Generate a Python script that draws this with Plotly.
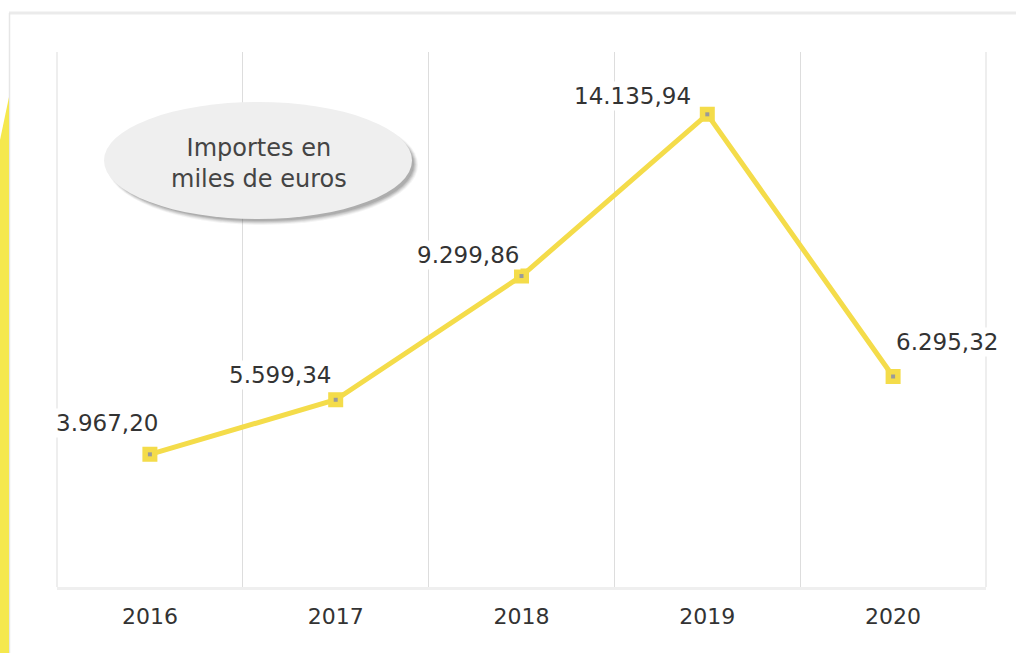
import plotly.graph_objects as go

years = ["2016", "2017", "2018", "2019", "2020"]
importes = [3967.20, 5599.34, 9299.86, 14135.94, 6295.32]
titulo_caja = "Importes en<br>miles de euros"

W, H = 1016, 653
ML, MR, MT, MB = 57, 30, 52, 66
PW, PH = W - ML - MR, H - MT - MB


def px(x):
    return (x - ML) / PW


def py(y):
    return (H - MB - y) / PH


def es(v):
    s = f"{v:,.2f}"
    return s.replace(",", "X").replace(".", ",").replace("X", ".")


amarillo = "#f4dc4a"

fig = go.Figure()
fig.add_trace(go.Scatter(
    x=years, y=importes, mode="lines+markers",
    line=dict(color=amarillo, width=5),
    marker=dict(symbol="square", size=12, color=amarillo,
                line=dict(color=amarillo, width=3)),
    hoverinfo="skip", showlegend=False,
))
fig.add_trace(go.Scatter(
    x=years, y=importes, mode="markers",
    marker=dict(symbol="square", size=4, color="#9a9a9a"),
    hoverinfo="skip", showlegend=False,
))

# etiquetas de valores (desplazamientos en px)
offs = [(10, 31, "right"), (-3, 25, "right"), (-1, 21, "right"),
        (-14, 18, "right"), (1, 35, "left")]
annots = []
for i, (v, (dx, dy, anc)) in enumerate(zip(importes, offs)):
    annots.append(dict(xref="x", yref="y", x=i, y=v, text=es(v),
                       showarrow=False, xanchor=anc, yanchor="middle",
                       xshift=dx, yshift=dy,
                       font=dict(family="DejaVu Sans", size=23, color="#333"),
                       bgcolor="white"))

shapes = []
# marco gris y franja amarilla
shapes.append(dict(type="line", xref="paper", yref="paper",
                   x0=px(9), x1=px(W), y0=py(13), y1=py(13),
                   line=dict(color="#ebebeb", width=3), layer="below"))
shapes.append(dict(type="line", xref="paper", yref="paper",
                   x0=px(9.5), x1=px(9.5), y0=py(13), y1=py(H),
                   line=dict(color="#e6e6e6", width=1.5), layer="below"))
path = "M {} {} L {} {} L {} {} L {} {} Z".format(
    px(0), py(140), px(9), py(97), px(9), py(H), px(0), py(H))
shapes.append(dict(type="path", xref="paper", yref="paper", path=path,
                   fillcolor="#f5e84e", line=dict(width=0), layer="below"))

# elipse con sombra
ex0, ex1, ey0, ey1 = 104, 412, 102, 219
for i, op in enumerate([0.06, 0.08, 0.10, 0.12, 0.14]):
    d = 6 - i
    shapes.append(dict(type="circle", xref="paper", yref="paper",
                       x0=px(ex0 + 3 + i * 0.6), x1=px(ex1 + d),
                       y0=py(ey0 + 3 + i * 0.6), y1=py(ey1 + d),
                       fillcolor=f"rgba(60,60,60,{op})", line=dict(width=0),
                       layer="above"))
shapes.append(dict(type="circle", xref="paper", yref="paper",
                   x0=px(ex0), x1=px(ex1), y0=py(ey0), y1=py(ey1),
                   fillcolor="#efefef", line=dict(width=0), layer="above"))
# bordes verticales extremos
for xx in (ML, W - MR):
    shapes.append(dict(type="line", xref="paper", yref="paper",
                       x0=px(xx), x1=px(xx), y0=0, y1=1,
                       line=dict(color="#dddddd", width=1), layer="below"))

annots.append(dict(xref="paper", yref="paper", x=px(259), y=py(164),
                   xanchor="center", yanchor="middle",
                   text=titulo_caja, showarrow=False,
                   font=dict(family="DejaVu Sans", size=24, color="#444")))

fig.update_layout(
    width=W, height=H, margin=dict(l=ML, r=MR, t=MT, b=MB),
    paper_bgcolor="white", plot_bgcolor="white",
    shapes=shapes, annotations=annots,
    xaxis=dict(type="category", range=[-0.5, 4.5], tickson="boundaries",
               showgrid=True, gridcolor="#dddddd", gridwidth=1,
               ticks="", showline=True, linecolor="#efefef", linewidth=3,
               ticklabelstandoff=8,
               tickfont=dict(family="DejaVu Sans", size=22, color="#333"),
               fixedrange=True),
    yaxis=dict(range=[0, 16000], showgrid=False, showticklabels=False,
               zeroline=False, fixedrange=True),
)

fig.write_html("out.html", config={"displayModeBar": False},
               post_script="document.body.style.margin='0';")
